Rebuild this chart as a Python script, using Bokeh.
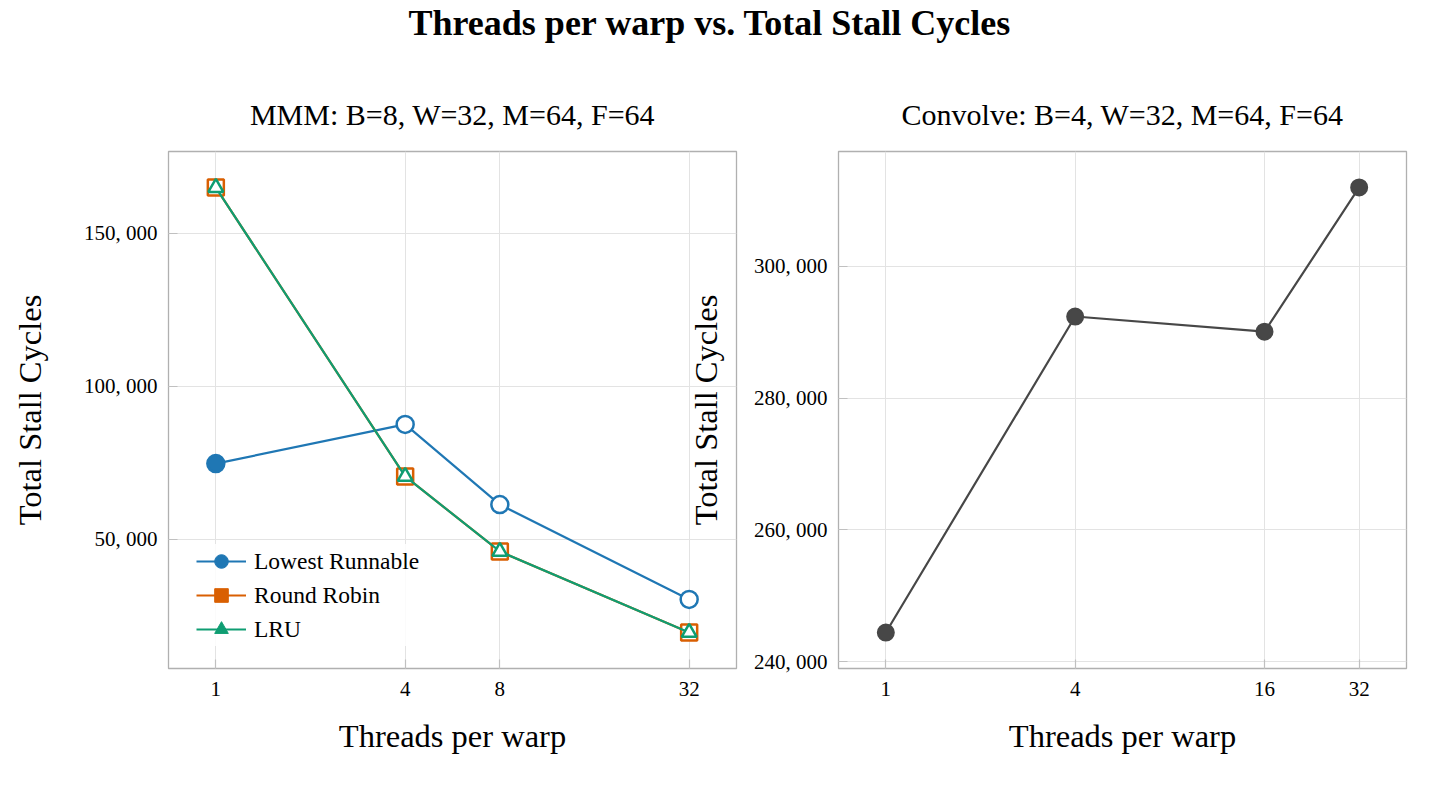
import math
from bokeh.plotting import figure
from bokeh.layouts import column, row
from bokeh.models import (FixedTicker, Range1d, Legend, LegendItem, Label,
                          NumeralTickFormatter, ColumnDataSource)
from bokeh.embed import file_html
from bokeh.resources import INLINE

# ---------------- data ----------------
main_title = "Threads per warp vs. Total Stall Cycles"
mmm_title = "MMM: B=8, W=32, M=64, F=64"
conv_title = "Convolve: B=4, W=32, M=64, F=64"

mmm_threads = [1, 4, 8, 32]
lowest_runnable = [74800, 87600, 61400, 30400]
round_robin = [165000, 70600, 46100, 19600]
lru = [165000, 70600, 46100, 19600]

conv_threads = [1, 4, 16, 32]
convolve = [244400, 292400, 290100, 312000]

mmm_yticks = [50000, 100000, 150000]
conv_yticks = [240000, 260000, 280000, 300000]

series_names = ["Lowest Runnable", "Round Robin", "LRU"]

# ---------------- style ----------------
FONT = "Liberation Serif"
BLUE = "#1f77b4"
ORANGE = "#d95f02"
GREEN = "#0f9d72"
DARK = "#474747"
GRID = "#e3e3e3"
FRAME = "#b0b0b0"

XLO, XHI = 2 ** -0.5, 2 ** 5.5


def fmt_thousands(v):
    s = f"{v:,}"
    return s.replace(",", ", ")


def style(p, yticks, xticks):
    p.outline_line_color = FRAME
    p.outline_line_width = 1.3
    p.background_fill_color = "white"
    p.border_fill_color = "white"
    for ax in (p.xaxis[0], p.yaxis[0]):
        ax.axis_line_color = None
        ax.major_tick_in = 9
        ax.major_tick_out = 0
        ax.major_tick_line_color = "#c0c0c0"
        ax.major_tick_line_width = 1.2
        ax.minor_tick_line_color = None
        ax.major_label_text_font = FONT
        ax.major_label_text_font_size = "21px"
        ax.major_label_text_color = "black"
        ax.axis_label_text_font = FONT
        ax.axis_label_text_font_size = "32.5px"
        ax.axis_label_text_font_style = "normal"
        ax.axis_label_text_color = "black"
    p.xaxis[0].ticker = FixedTicker(ticks=xticks)
    p.xaxis[0].formatter = NumeralTickFormatter(format="0")
    p.xaxis[0].major_label_standoff = 13
    p.xaxis[0].axis_label_standoff = 19
    p.yaxis[0].ticker = FixedTicker(ticks=yticks)
    p.yaxis[0].major_label_overrides = {v: fmt_thousands(v) for v in yticks}
    p.yaxis[0].major_label_standoff = 11
    p.yaxis[0].axis_label_standoff = 33
    p.xgrid.grid_line_color = GRID
    p.ygrid.grid_line_color = GRID
    p.xgrid.grid_line_width = 1
    p.ygrid.grid_line_width = 1
    p.title.text_font = FONT
    p.title.text_font_size = "30px"
    p.title.text_font_style = "normal"
    p.title.text_color = "black"
    p.title.align = "center"
    p.title.standoff = 42


# ---------------- main title strip ----------------
p0 = figure(width=1440, height=60, toolbar_location=None, output_backend="svg",
            x_range=Range1d(0, 1), y_range=Range1d(0, 1),
            min_border=0, min_border_left=0, min_border_right=0,
            min_border_top=0, min_border_bottom=0)
p0.title.text = main_title
p0.title.text_font = FONT
p0.title.text_font_size = "36px"
p0.title.text_font_style = "bold"
p0.title.text_color = "black"
p0.title.align = "left"
p0.title.offset = 408
p0.title.standoff = 0
p0.axis.visible = False
p0.grid.visible = False
p0.outline_line_color = None
p0.scatter([0.5], [0.5], size=0, alpha=0)

# ---------------- left plot (MMM) ----------------
ylo1, yhi1 = 7843, 176797
p1 = figure(width=738, height=750, x_axis_type="log", toolbar_location=None,
            output_backend="svg", x_range=Range1d(XLO, XHI),
            y_range=Range1d(ylo1, yhi1), title=mmm_title,
            min_border_left=168, min_border_right=2, min_border_top=91,
            min_border_bottom=142)
style(p1, mmm_yticks, mmm_threads)
p1.xaxis.axis_label = "Threads per warp"
p1.yaxis.axis_label = "Total Stall Cycles"

lr_line = p1.line(mmm_threads, lowest_runnable, line_color=BLUE, line_width=2.2)
lr_fill = ["white"] * len(mmm_threads)
lr_fill[0] = BLUE
lr_src = ColumnDataSource(dict(x=mmm_threads, y=lowest_runnable, f=lr_fill))
p1.scatter("x", "y", source=lr_src, marker="circle", size=17, fill_color="f",
           line_color=BLUE, line_width=2.5)

rr_line = p1.line(mmm_threads, round_robin, line_color=ORANGE, line_width=2.2)
p1.scatter(mmm_threads, round_robin, marker="square", size=16, fill_color="white",
           line_color=ORANGE, line_width=2.5)

lru_line = p1.line(mmm_threads, lru, line_color=GREEN, line_width=2.2)
p1.scatter(mmm_threads, lru, marker="triangle", size=15, fill_color="white",
           line_color=GREEN, line_width=2.5)

nan = [float("nan")]
lg_lr = p1.scatter(nan, nan, marker="circle", size=16, fill_color=BLUE, line_color=BLUE)
lg_rr = p1.scatter(nan, nan, marker="square", size=16, fill_color=ORANGE, line_color=ORANGE)
lg_lru = p1.scatter(nan, nan, marker="triangle", size=16, fill_color=GREEN, line_color=GREEN)

legend = Legend(items=[
    LegendItem(label=series_names[0], renderers=[lr_line, lg_lr]),
    LegendItem(label=series_names[1], renderers=[rr_line, lg_rr]),
    LegendItem(label=series_names[2], renderers=[lru_line, lg_lru]),
], location=(28, 22))
legend.label_text_font = FONT
legend.label_text_font_size = "23.5px"
legend.label_text_color = "black"
legend.glyph_width = 50
legend.glyph_height = 34
legend.label_height = 34
legend.spacing = 0
legend.label_standoff = 8
legend.padding = 10
legend.margin = 0
legend.border_line_color = None
legend.background_fill_color = "white"
legend.background_fill_alpha = 0.85
p1.add_layout(legend)

# y-axis label of the right plot (it overlaps the left plot's frame)
frac = (705 - 168) / 568
lx = 2 ** (math.log2(XLO) + (math.log2(XHI) - math.log2(XLO)) * frac)
p1.add_layout(Label(x=lx, y=(ylo1 + yhi1) / 2, text="Total Stall Cycles",
                    angle=math.pi / 2, text_align="center", text_baseline="middle",
                    text_font=FONT, text_font_size="32.5px", text_color="black"))

# ---------------- right plot (Convolve) ----------------
p2 = figure(width=702, height=750, x_axis_type="log", toolbar_location=None,
            output_backend="svg", x_range=Range1d(XLO, XHI),
            y_range=Range1d(238937, 317464), title=conv_title,
            min_border_left=100, min_border_right=34, min_border_top=91,
            min_border_bottom=142)
style(p2, conv_yticks, conv_threads)
p2.xaxis.axis_label = "Threads per warp"

p2.line(conv_threads, convolve, line_color=DARK, line_width=2.2)
p2.scatter(conv_threads, convolve, marker="circle", size=16, fill_color=DARK,
           line_color=DARK, line_width=2)

layout = column(p0, row(p1, p2, spacing=0), spacing=0)
open("out.html", "w").write(file_html(layout, INLINE))
